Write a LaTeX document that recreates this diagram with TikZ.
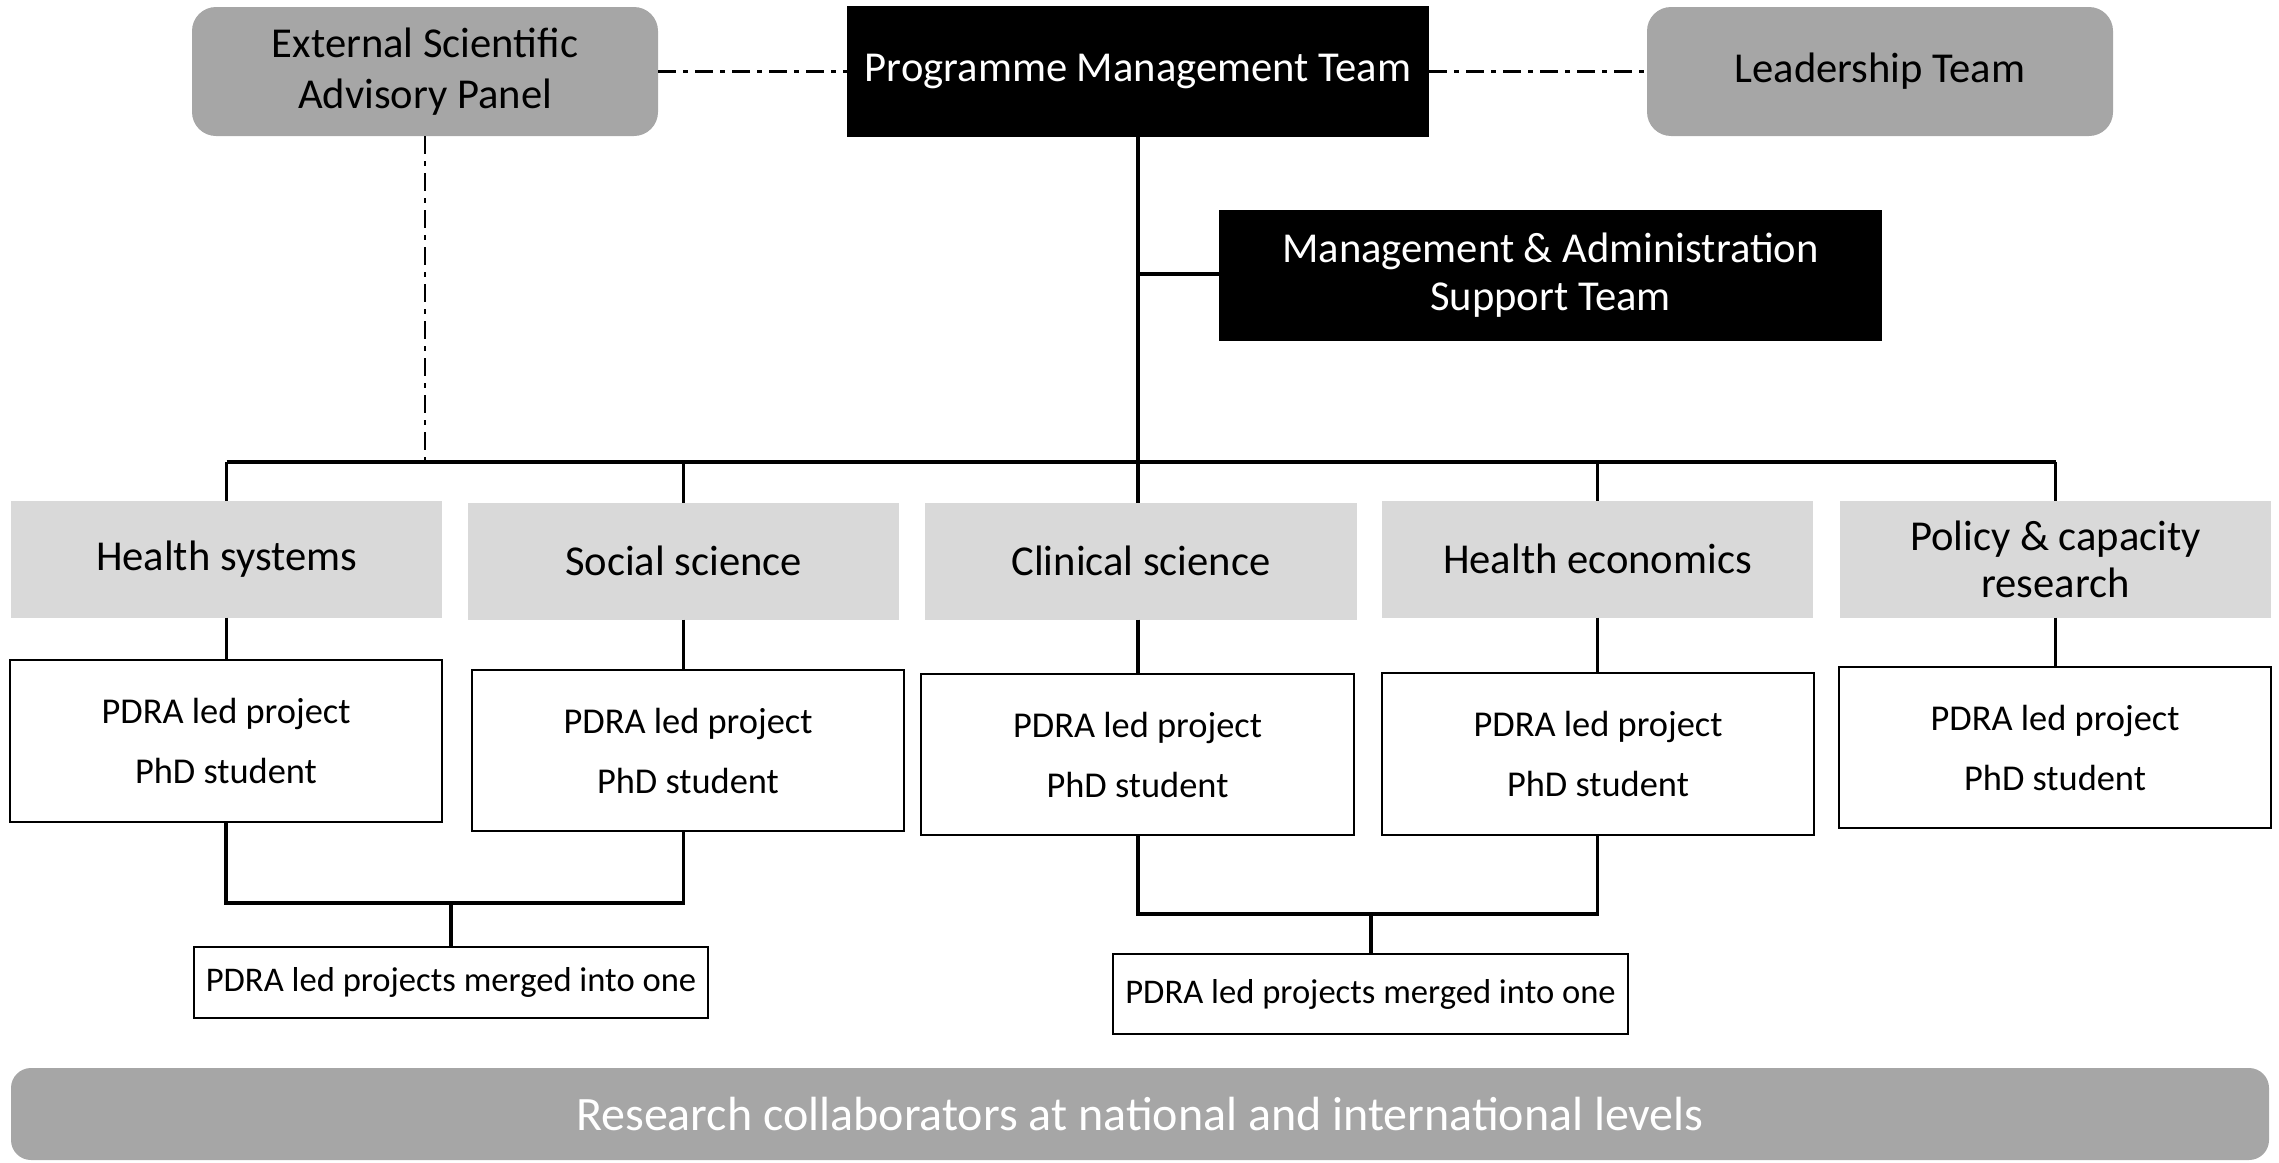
\documentclass[tikz,border=0pt]{standalone}
\usepackage{fontspec}
\setmainfont{Carlito}
\usetikzlibrary{calc}
\definecolor{midgray}{HTML}{A6A6A6}
\definecolor{palegray}{HTML}{D9D9D9}
\tikzset{
  sz/.style 2 args={minimum width=#1*0.5pt, minimum height=#2*0.5pt},
  base/.style={inner sep=0pt, outer sep=0pt, align=center, font=\fontsize{21.3}{23.5}\selectfont},
  roundbox/.style={base, fill=midgray, rounded corners=12pt},
  blackbox/.style={base, fill=black, text=white},
  divbox/.style={base, fill=palegray},
  pdrabox/.style={base, draw=black, line width=1.2pt, fill=white, font=\fontsize{18.2}{30}\selectfont},
  mergebox/.style={base, draw=black, line width=1.2pt, fill=white, font=\fontsize{17.3}{19}\selectfont},
  bandbox/.style={base, fill=midgray, rounded corners=10pt, text=white, font=\fontsize{24}{28}\selectfont},
  conn/.style={line width=1.8pt, black},
  dashdot/.style={line width=1.3pt, black, dash pattern=on 9pt off 3.5pt on 2.5pt off 3.5pt},
}
\begin{document}
\begin{tikzpicture}[x=0.5pt,y=-0.5pt]
\useasboundingbox (0,0) rectangle (2279,1162);
% top row
\node[roundbox, sz={466}{129}, font=\fontsize{21.3}{25.5}\selectfont] (esap) at (425,71.5) {External Scientific\\Advisory Panel};
\node[blackbox, sz={582}{131}] (pmt) at (1138,71.5) {Programme Management Team};
\node[roundbox, sz={466}{129}] (lead) at (1880,71.5) {Leadership Team};
\node[blackbox, sz={663}{131}, font=\fontsize{21.3}{24}\selectfont] (mast) at (1550.5,275.5) {Management \& Administration\\Support Team};
% divisions
\node[divbox, sz={431}{117}] (hs) at (226.5,559) {Health systems};
\node[divbox, sz={431}{117}] (ss) at (683.5,561) {Social science};
\node[divbox, sz={432}{117}] (cs) at (1141,561) {Clinical science};
\node[divbox, sz={431}{117}] (he) at (1597.5,559) {Health economics};
\node[divbox, sz={431}{117}] (pc) at (2055.5,559) {Policy \& capacity\\research};
% PDRA boxes
\node[pdrabox, sz={432}{162}] (hsp) at (226,741) {PDRA led project\\PhD student};
\node[pdrabox, sz={432}{161}] (ssp) at (688,750.5) {PDRA led project\\PhD student};
\node[pdrabox, sz={433}{161}] (csp) at (1137.5,754.5) {PDRA led project\\PhD student};
\node[pdrabox, sz={432}{162}] (hep) at (1598,754) {PDRA led project\\PhD student};
\node[pdrabox, sz={432}{161}] (pcp) at (2055,747.5) {PDRA led project\\PhD student};
% merged
\node[mergebox, sz={514}{71}] (m1) at (451,982.5) {PDRA led projects merged into one};
\node[mergebox, sz={515}{80}] (m2) at (1370.5,994) {PDRA led projects merged into one};
% band
\node[bandbox, sz={2258}{92}] (band) at (1140,1114) {Research collaborators at national and international levels};
% coordinates
\coordinate (bar) at (0,462);
\coordinate (mbar) at (0,274);
\coordinate (j1) at (451,903);
\coordinate (j2) at (1371,914);
% dash-dot links
\draw[dashdot] (esap.east) -- (pmt.west);
\draw[dashdot] (pmt.east) -- (lead.west);
\draw[dashdot] (esap.south) -- (esap.south |- bar);
% main tree
\draw[conn] (pmt.south) -- (pmt.south |- bar);
\draw[conn] (pmt.south |- mbar) -- (mast.west |- mbar);
\draw[conn] (hs.north |- bar) -- (pc.north |- bar);
\draw[conn] (hs.north |- bar) -- (hs.north);
\draw[conn] (ss.north |- bar) -- (ss.north);
\draw[conn] (pmt.south |- bar) -- (pmt.south |- cs.north);
\draw[conn] (he.north |- bar) -- (he.north);
\draw[conn] (pc.north |- bar) -- (pc.north);
% division to PDRA
\draw[conn] (hs.south) -- (hs.south |- hsp.north);
\draw[conn] (ss.south) -- (ss.south |- ssp.north);
\draw[conn] (pmt.south |- cs.south) -- (pmt.south |- csp.north);
\draw[conn] (he.south) -- (he.south |- hep.north);
\draw[conn] (pc.south) -- (pc.south |- pcp.north);
% merges
\draw[conn] (hsp.south) |- (j1) -| (ss.south |- ssp.south);
\draw[conn] (j1) -- (m1.north);
\draw[conn] (pmt.south |- csp.south) |- (j2) -| (he.south |- hep.south);
\draw[conn] (j2) -- (j2 |- m2.north);
\end{tikzpicture}
\end{document}
